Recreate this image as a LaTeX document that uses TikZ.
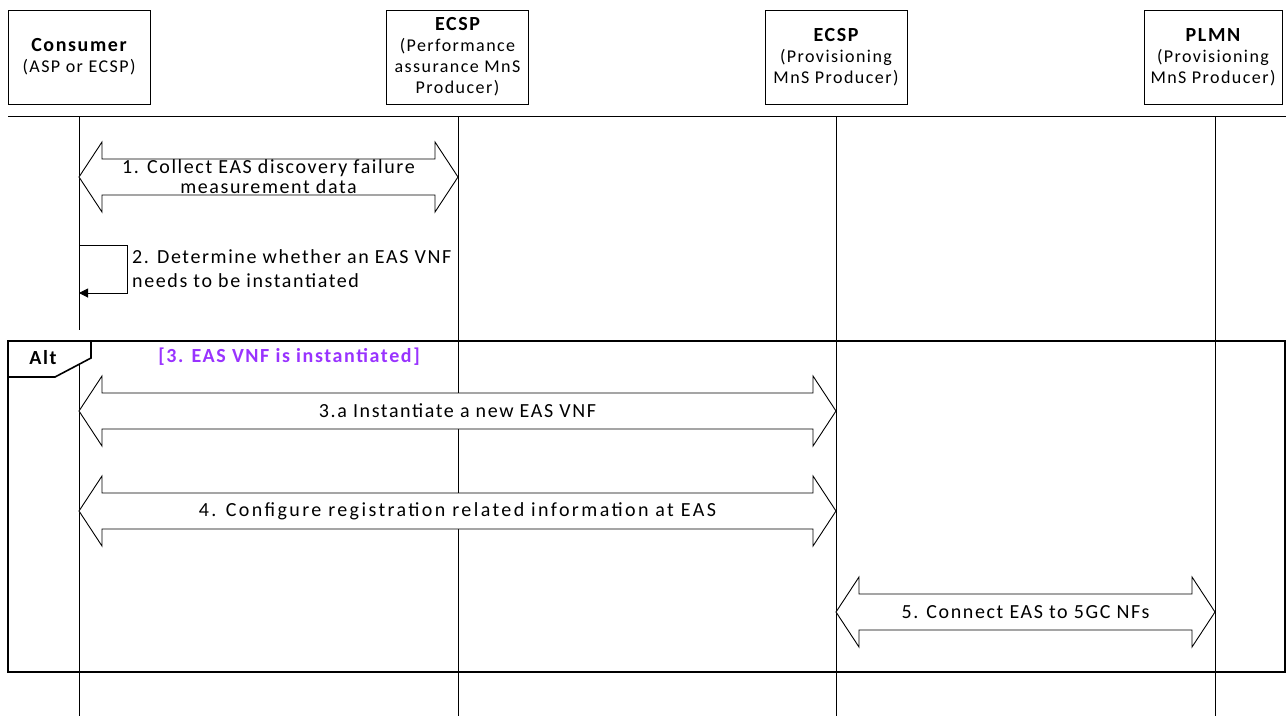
\documentclass[tikz,border=0pt]{standalone}
\usepackage{fontspec}
\setmainfont{Carlito}[LetterSpace=8]
\usetikzlibrary{calc,arrows.meta}
\definecolor{guardcol}{RGB}{153,51,255}

\newcommand{\bigmsg}[4]{%
    \draw [msg] (#1) -- ++(23,-35) -- ++(0,17) -- ($(#2)+(-23,-18)$) -- ++(0,-17) -- (#2)
        -- ++(-23,35) -- ++(0,-17) -- ($(#1)+(23,18)$) -- ++(0,17) -- cycle;
    \node (#3) at ($(#1)!0.5!(#2)$) [msgtext] {#4};
}
\newcommand{\actortitle}[1]{{\fontsize{20}{21}\selectfont\bfseries #1}}

\begin{document}
\begin{tikzpicture}[
        x=1pt, y=-1pt,
        actor/.style={
            draw,
            line width=1pt,
            minimum width=142,
            minimum height=94,
            inner sep=0pt,
            align=center,
            font=\fontsize{18}{21}\selectfont,
        },
        life/.style={draw, line width=1pt},
        msg/.style={draw, fill=white, line width=0.9pt},
        msgtext/.style={align=center, inner sep=0pt, font=\fontsize{20}{20}\selectfont},
    ]

    \useasboundingbox (0,0) rectangle (1286,716);

    \node (cons) at (79,57) [actor] {\actortitle{Consumer}\\(ASP or ECSP)};
    \node (pa) at (457.5,57) [actor] {\actortitle{ECSP}\\(Performance\\assurance MnS\\Producer)};
    \node (prov) at (836,57) [actor] {\actortitle{ECSP}\\(Provisioning\\MnS Producer)};
    \node (plmn) at (1213,57) [actor, minimum width=138] {\actortitle{PLMN}\\(Provisioning\\MnS Producer)};

    \draw [life] (8,116) -- (1286,116);

    \coordinate (cons top) at (79,116);
    \coordinate (pa top) at (458,116);
    \coordinate (prov top) at (836,116);
    \coordinate (plmn top) at (1215,116);
    \coordinate (cons bot) at (79,716);
    \coordinate (pa bot) at (458,716);
    \coordinate (prov bot) at (836,716);
    \coordinate (plmn bot) at (1215,716);

    \draw [life] (cons top) -- (79,330);
    \draw [life] (79,350) -- (cons bot);
    \draw [life] (pa top) -- (pa bot);
    \draw [life] (prov top) -- (prov bot);
    \draw [life] (plmn top) -- (plmn bot);

    \draw [line width=2pt] (8,341) rectangle (1285,672);
    \draw [line width=1.6pt, fill=white] (8,341) -- (91,341) -- (91,358) -- (55,377) -- (8,377) -- cycle;
    \node (alt) at (43,358) [font=\fontsize{20}{20}\selectfont\bfseries] {Alt};
    \node (guard) at (289,357) [text=guardcol, font=\fontsize{20}{20}\selectfont\bfseries] {[3. EAS VNF is instantiated]};

    \coordinate (m1l) at (79,177);
    \coordinate (m1r) at (458,177);
    \bigmsg{m1l}{m1r}{m1}{1. Collect EAS discovery failure\\measurement data}

    \coordinate (m2a) at (79,245);
    \coordinate (m2b) at (79,293);
    \draw [life, -{Triangle[length=9pt,width=9pt]}] (m2a) -- (127,245) -- (127,293) -- (m2b);
    \node (m2) at (132,269) [msgtext, anchor=west, align=left, font=\fontsize{20}{24}\selectfont] {2. Determine whether an EAS VNF\\needs to be instantiated};

    \coordinate (m3l) at (79,411);
    \coordinate (m3r) at (836,411);
    \bigmsg{m3l}{m3r}{m3}{3.a Instantiate a new EAS VNF}

    \coordinate (m4l) at (79,511);
    \coordinate (m4r) at (836,511);
    \bigmsg{m4l}{m4r}{m4}{\addfontfeature{LetterSpace=12}4. Configure registration related information at EAS}

    \coordinate (m5l) at (836,612);
    \coordinate (m5r) at (1215,612);
    \bigmsg{m5l}{m5r}{m5}{5. Connect EAS to 5GC NFs}

\end{tikzpicture}
\end{document}
